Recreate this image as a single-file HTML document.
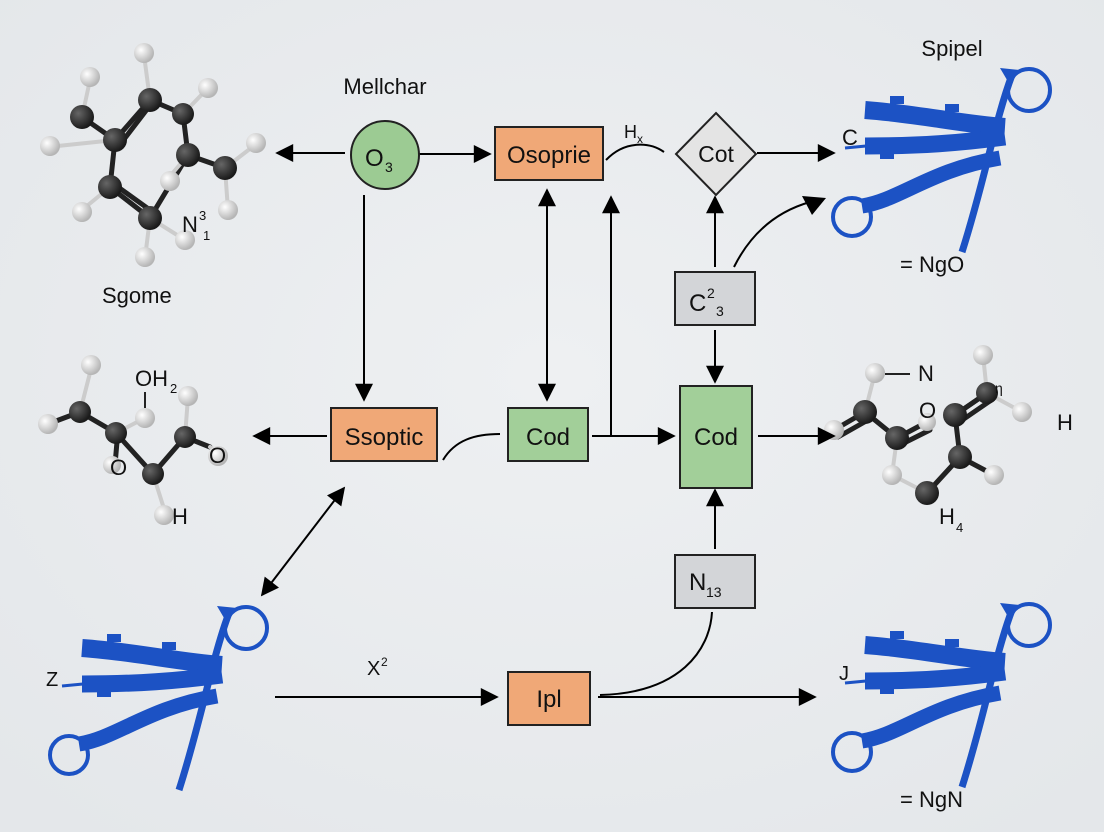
<!DOCTYPE html>
<html><head><meta charset="utf-8"><style>
html,body{margin:0;padding:0;width:1104px;height:832px;overflow:hidden;background:#e9ecef}
text{font-family:"Liberation Sans",sans-serif;fill:#111}
</style></head><body>
<svg width="1104" height="832" viewBox="0 0 1104 832" xmlns="http://www.w3.org/2000/svg">
<defs>
<radialGradient id="bg" cx="50%" cy="45%" r="70%"><stop offset="0" stop-color="#eef0f2"/><stop offset="1" stop-color="#e4e7ea"/></radialGradient>
<radialGradient id="cb" cx="35%" cy="35%" r="65%"><stop offset="0" stop-color="#666"/><stop offset="1" stop-color="#1a1a1a"/></radialGradient>
<radialGradient id="hb" cx="35%" cy="35%" r="65%"><stop offset="0" stop-color="#fff"/><stop offset="1" stop-color="#b5b5b5"/></radialGradient>
<marker id="A" viewBox="0 0 10 10" refX="9" refY="5" markerWidth="20" markerHeight="18" orient="auto-start-reverse" markerUnits="userSpaceOnUse"><path d="M0,0L10,5L0,10z" fill="#000"/></marker>
<g id="prot" fill="none" stroke="#1c52c4" stroke-linecap="butt">
<circle cx="1029" cy="90" r="21" stroke-width="4"/>
<circle cx="852" cy="217" r="19" stroke-width="4"/>
<path d="M1012,75 C995,120 985,180 962,252" stroke-width="7"/>
<path d="M865,110 C920,114 960,124 1005,127" stroke-width="18"/>
<path d="M865,146 C920,146 960,143 1005,137" stroke-width="17"/>
<path d="M862,206 C900,200 930,170 1000,158" stroke-width="15"/>
<path d="M845,148 L866,146" stroke-width="3"/>
<rect x="890" y="96" width="14" height="8" fill="#1c52c4" stroke="none"/>
<rect x="945" y="104" width="14" height="8" fill="#1c52c4" stroke="none"/>
<rect x="880" y="151" width="14" height="8" fill="#1c52c4" stroke="none"/>
<path d="M1000,68 L1020,70 L1010,85z" fill="#1c52c4" stroke="none"/>
</g>
</defs>
<rect width="1104" height="832" fill="url(#bg)"/>

<use href="#prot"/>
<use href="#prot" transform="translate(-783,538)"/>
<use href="#prot" transform="translate(0,535)"/>

<!-- molecule 1 top-left -->
<g stroke-linecap="round">
<g stroke="#222" stroke-width="5" fill="none">
<path d="M82,117 L115,140 L150,100 L183,114 L188,155 L225,168"/>
<path d="M115,140 L110,187 L150,218 L188,155"/>
<path d="M125,138 L148,108 M118,187 L150,210"/>
</g>
<g stroke="#ccc" stroke-width="4" fill="none">
<path d="M82,117 L90,80 M150,100 L144,55 M183,114 L208,88 M225,168 L255,145 M225,168 L228,210 M110,187 L82,210 M150,218 L145,258 M150,218 L185,240 M188,155 L165,182 M115,140 L48,147"/>
</g>
<g fill="url(#hb)"><circle cx="90" cy="77" r="10"/><circle cx="144" cy="53" r="10"/><circle cx="208" cy="88" r="10"/><circle cx="256" cy="143" r="10"/><circle cx="228" cy="210" r="10"/><circle cx="82" cy="212" r="10"/><circle cx="145" cy="257" r="10"/><circle cx="185" cy="240" r="10"/><circle cx="170" cy="181" r="10"/><circle cx="50" cy="146" r="10"/></g>
<g fill="url(#cb)"><circle cx="82" cy="117" r="12"/><circle cx="115" cy="140" r="12"/><circle cx="150" cy="100" r="12"/><circle cx="183" cy="114" r="11"/><circle cx="188" cy="155" r="12"/><circle cx="225" cy="168" r="12"/><circle cx="110" cy="187" r="12"/><circle cx="150" cy="218" r="12"/></g>
</g>
<text x="182" y="232" font-size="22">N</text><text x="199" y="220" font-size="13">3</text><text x="203" y="240" font-size="13">1</text>
<text x="102" y="303" font-size="22">Sgome</text>

<!-- molecule 2 left -->
<g stroke-linecap="round">
<g stroke="#222" stroke-width="5" fill="none"><path d="M80,412 L116,433 L153,474 L185,437 L210,447"/><path d="M48,424 L80,412 M118,430 L115,465"/></g>
<g stroke="#ccc" stroke-width="4" fill="none"><path d="M80,412 L92,365 M116,433 L145,418 M185,437 L188,397 M153,474 L166,515 M210,447 L225,456"/></g>
<g fill="url(#hb)"><circle cx="91" cy="365" r="10"/><circle cx="48" cy="424" r="10"/><circle cx="145" cy="418" r="10"/><circle cx="188" cy="396" r="10"/><circle cx="164" cy="515" r="10"/><circle cx="218" cy="456" r="10"/><circle cx="112" cy="465" r="9"/></g>
<g fill="url(#cb)"><circle cx="80" cy="412" r="11"/><circle cx="116" cy="433" r="11"/><circle cx="153" cy="474" r="11"/><circle cx="185" cy="437" r="11"/></g>
</g>
<text x="135" y="386" font-size="22">OH</text><text x="170" y="393" font-size="13">2</text>
<line x1="145" y1="392" x2="145" y2="408" stroke="#222" stroke-width="2"/>
<text x="110" y="475" font-size="22">O</text><text x="209" y="463" font-size="22">O</text><text x="172" y="524" font-size="22">H</text>

<!-- molecule 3 right -->
<g stroke-linecap="round">
<g stroke="#222" stroke-width="5" fill="none"><path d="M865,412 L897,438 M897,438 L927,422 M927,493 L960,457 L955,415 L987,393 M960,457 L994,475"/><path d="M955,415 L987,393 M958,423 L990,401 M865,412 L834,430 M868,420 L838,437 M900,445 L930,430"/></g>
<g stroke="#ccc" stroke-width="4" fill="none"><path d="M865,412 L875,373 M897,438 L892,475 M892,475 L927,493 M987,393 L983,355 M987,393 L1022,412"/></g>
<g fill="url(#hb)"><circle cx="875" cy="373" r="10"/><circle cx="834" cy="430" r="10"/><circle cx="892" cy="475" r="10"/><circle cx="994" cy="475" r="10"/><circle cx="983" cy="355" r="10"/><circle cx="1022" cy="412" r="10"/><circle cx="927" cy="422" r="9"/></g>
<g fill="url(#cb)"><circle cx="865" cy="412" r="12"/><circle cx="897" cy="438" r="12"/><circle cx="955" cy="415" r="12"/><circle cx="987" cy="393" r="11"/><circle cx="960" cy="457" r="12"/><circle cx="927" cy="493" r="12"/></g>
</g>
<line x1="885" y1="374" x2="910" y2="374" stroke="#222" stroke-width="2"/>
<text x="918" y="381" font-size="22">N</text><text x="919" y="418" font-size="22">O</text>
<text x="1057" y="430" font-size="22">H</text><text x="995" y="393" font-size="14">η</text>
<text x="939" y="524" font-size="22">H</text><text x="956" y="532" font-size="13">4</text>

<!-- labels -->
<text x="385" y="94" font-size="22" text-anchor="middle">Mellchar</text>
<text x="952" y="56" font-size="22" text-anchor="middle">Spipel</text>
<text x="842" y="145" font-size="22">C</text>
<text x="900" y="272" font-size="22">= NgO</text>
<text x="46" y="686" font-size="20">Z</text>
<text x="839" y="680" font-size="20">J</text>
<text x="900" y="807" font-size="22">= NgN</text>
<text x="624" y="138" font-size="18">H</text><text x="637" y="143" font-size="12">x</text>
<text x="367" y="675" font-size="20">X</text><text x="381" y="666" font-size="12">2</text>

<!-- connectors -->
<g stroke="#000" stroke-width="2" fill="none">
<line x1="345" y1="153" x2="277" y2="153" marker-end="url(#A)"/>
<line x1="402" y1="154" x2="490" y2="154" marker-end="url(#A)"/>
<line x1="364" y1="195" x2="364" y2="400" marker-end="url(#A)"/>
<line x1="547" y1="190" x2="547" y2="400" marker-start="url(#A)" marker-end="url(#A)"/>
<line x1="611" y1="436" x2="611" y2="197" marker-end="url(#A)"/>
<line x1="592" y1="436" x2="674" y2="436" marker-end="url(#A)"/>
<path d="M606,160 C625,140 650,142 664,152"/>
<line x1="757" y1="153" x2="834" y2="153" marker-end="url(#A)"/>
<line x1="715" y1="267" x2="715" y2="197" marker-end="url(#A)"/>
<path d="M734,267 C750,235 775,212 810,202" />
<line x1="715" y1="330" x2="715" y2="382" marker-end="url(#A)"/>
<line x1="758" y1="436" x2="834" y2="436" marker-end="url(#A)"/>
<line x1="327" y1="436" x2="254" y2="436" marker-end="url(#A)"/>
<path d="M443,460 C455,440 475,434 500,434"/>
<line x1="344" y1="488" x2="262" y2="595" marker-start="url(#A)" marker-end="url(#A)"/>
<line x1="275" y1="697" x2="497" y2="697" marker-end="url(#A)"/>
<line x1="598" y1="697" x2="815" y2="697" marker-end="url(#A)"/>
<path d="M600,695 C680,693 710,650 712,612"/>
<line x1="715" y1="549" x2="715" y2="490" marker-end="url(#A)"/>
</g>
<path d="M826,198 L802,196 L812,215z" fill="#000"/>

<!-- nodes -->
<g stroke="#222" stroke-width="2">
<circle cx="385" cy="155" r="34" fill="#9ccb93"/>
<rect x="495" y="127" width="108" height="53" fill="#f0a877"/>
<polygon points="716,113 756,154 716,195 676,154" fill="#e4e4e4"/>
<rect x="675" y="272" width="80" height="53" fill="#d3d5d8"/>
<rect x="680" y="386" width="72" height="102" fill="#a2cf99"/>
<rect x="508" y="408" width="80" height="53" fill="#a2cf99"/>
<rect x="331" y="408" width="106" height="53" fill="#f0a877"/>
<rect x="675" y="555" width="80" height="53" fill="#d3d5d8"/>
<rect x="508" y="672" width="82" height="53" fill="#f0a877"/>
</g>
<text x="365" y="166" font-size="24">O</text><text x="385" y="172" font-size="14">3</text>
<text x="549" y="163" font-size="24" text-anchor="middle">Osoprie</text>
<text x="716" y="162" font-size="23" text-anchor="middle">Cot</text>
<text x="689" y="311" font-size="24">C</text><text x="707" y="298" font-size="14">2</text><text x="716" y="316" font-size="14">3</text>
<text x="716" y="445" font-size="24" text-anchor="middle">Cod</text>
<text x="548" y="445" font-size="24" text-anchor="middle">Cod</text>
<text x="384" y="445" font-size="24" text-anchor="middle">Ssoptic</text>
<text x="689" y="590" font-size="24">N</text><text x="706" y="597" font-size="14">13</text>
<text x="549" y="707" font-size="24" text-anchor="middle">Ipl</text>
</svg>
</body></html>
